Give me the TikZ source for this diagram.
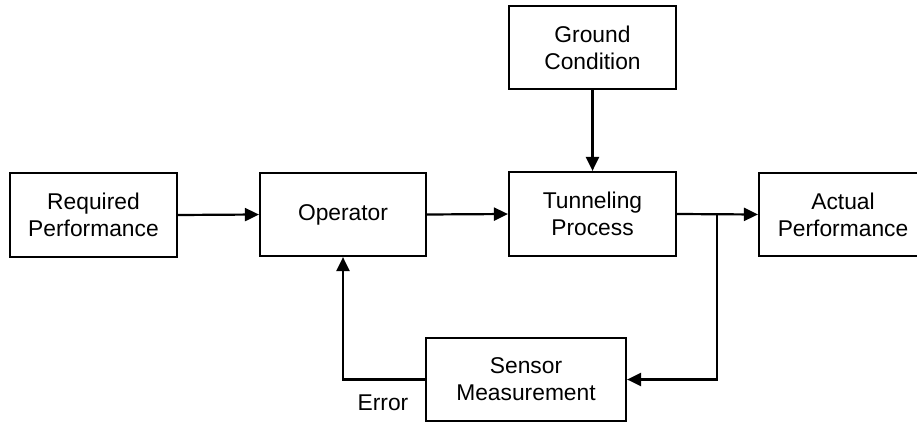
\documentclass[tikz,border=0pt]{standalone}
\usepackage{fontspec}
\setmainfont{Liberation Sans}
\usetikzlibrary{arrows.meta}
\begin{document}
\begin{tikzpicture}[x=1pt,y=-1pt,
  block/.style={draw, line width=2.2pt, align=center, inner sep=0pt,
    font=\fontsize{22.8}{27}\selectfont},
  flow/.style={line width=2.2pt, -{Triangle[length=14pt,width=13pt]}}]
\useasboundingbox (0,0) rectangle (917,422);
\clip (0,0) rectangle (917,422);

% blocks of the control loop
\node[block, minimum width=167pt, minimum height=84pt] (req) at (93.5,215) {Required\\Performance};
\node[block, minimum width=166pt, minimum height=83pt] (op)  at (343,214.5) {Operator};
\node[block, minimum width=167pt, minimum height=84pt] (tun) at (592.5,214) {Tunneling\\Process};
\node[block, minimum width=167pt, minimum height=83pt] (gnd) at (592.5,47.5) {Ground\\Condition};
\node[block, minimum width=168pt, minimum height=83pt] (act) at (843,214.5) {Actual\\Performance};
\node[block, minimum width=200pt, minimum height=83pt] (sen) at (526,379.5) {Sensor\\Measurement};

% branch point of the feedback path
\coordinate (br) at (717,214);
\node[font=\fontsize{22.8}{27}\selectfont, inner sep=0pt] (err) at (383,403) {Error};

% connectors
\draw[flow] (req.east) -- (op.west);
\draw[flow] (op.east) -- (tun.west);
\draw[flow] (gnd.south) -- (tun.north);
\draw[flow] (tun.east) -- (act.west);
\draw[flow] (br) |- (sen.east);
\draw[flow] (sen.west) -| (op.south);
\end{tikzpicture}
\end{document}
